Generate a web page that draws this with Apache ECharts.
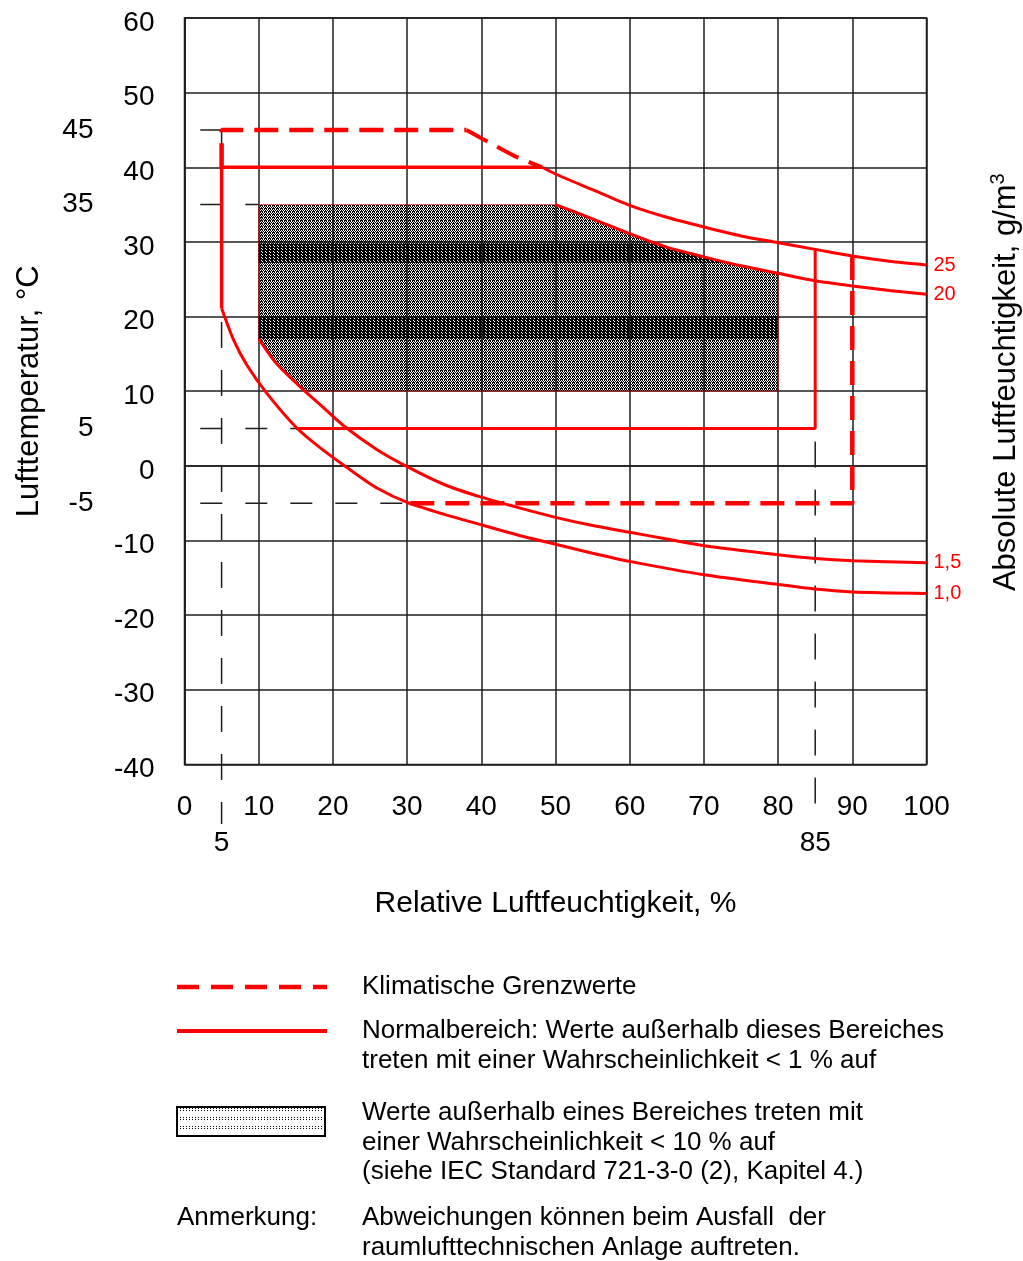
<!DOCTYPE html>
<html><head><meta charset="utf-8">
<script src="https://cdn.jsdelivr.net/npm/echarts@6/dist/echarts.min.js"></script>
<style>html,body{margin:0;padding:0;background:#fff;}#chart{width:1023px;height:1261px;}</style>
</head><body><div id="chart"></div>
<script>
// ---------- data ----------
const xRange = [0, 100, 10];
const yRange = [-40, 60, 10];
const yExtraTicks = [45, 35, 5, -5];
const xExtraTicks = [5, 85];
// lines of constant absolute humidity (RH %, T °C)
const curve25 = [[38,45],[40,43.9],[44.3,41.6],[48.2,40],[50,39.1],[55,37.0],[60,34.9],[65,33.3],[70,32.0],[75,30.8],[80,29.9],[85,29.0],[90,28.1],[95,27.4],[100,26.9]];
const curve20 = [[50,35.0],[55,33.1],[60,31.1],[65,29.3],[70,28.0],[75,26.8],[80,25.8],[85,24.8],[90,24.1],[95,23.5],[100,23.0]];
const curve15 = [[10,17.0],[12.4,13.7],[16,10.2],[18.5,8.0],[21.4,5.4],[25.9,2.2],[30,-0.1],[35,-2.5],[40,-4.2],[45,-5.6],[50,-6.9],[55,-8.0],[60,-8.9],[65,-9.8],[70,-10.7],[80,-11.9],[85,-12.4],[90,-12.7],[100,-13.0]];
const curve10 = [[5,21.1],[6.6,16.9],[8.4,13.5],[11.1,9.7],[15,5.2],[18.3,2.4],[22.7,-0.8],[26,-3.0],[30,-4.9],[35,-6.5],[40,-7.9],[45,-9.3],[50,-10.5],[55,-11.7],[60,-12.8],[70,-14.6],[80,-15.9],[85,-16.5],[90,-16.9],[100,-17.1]];
const curveLabels = ['25', '20', '1,5', '1,0'];
// Normalbereich (solid)
const normalUpperLeft = [[48.2,40],[5,40],[5,21.1]];
const normalLowerRight = [[15,5],[85,5],[85,29.0]];
// Klimatische Grenzwerte (dashed)
const climUpperLeft = [[5,40],[5,45],[38,45]];
const climLowerRight = [[90,28.1],[90,-5],[30,-5]];
// <10 % region
const shadeTopLeft = [[10,35]];
const shadeBottom = [[80,10],[16,10]];
const band1 = [[10,29.8],[63.6,29.8],[65,29.3],[70,28.0],[73.3,27.2],[10,27.2]];
const band2 = [[10,20],[80,20],[80,17.0],[10,17.0]];
// black dashed reference lines
const refLines = [
  [[-10,45],[5,45]], [[-10,35],[10,35]], [[-10,5],[15,5]], [[-10,-5],[30,-5]],
  [[5,45],[5,-48]], [[85,29.0],[85,-48]]
];
const xTitle = 'Relative Luftfeuchtigkeit, %';
const yTitle = 'Lufttemperatur, °C';
const y2Title = 'Absolute Luftfeuchtigkeit, g/m{sup|3}';
const legendTexts = [
  'Klimatische Grenzwerte',
  'Normalbereich: Werte außerhalb dieses Bereiches\ntreten mit einer Wahrscheinlichkeit < 1 % auf',
  'Werte außerhalb eines Bereiches treten mit\neiner Wahrscheinlichkeit < 10 % auf\n(siehe IEC Standard 721-3-0 (2), Kapitel 4.)',
  'Anmerkung:',
  'Abweichungen können beim Ausfall  der\nraumlufttechnischen Anlage auftreten.'
];

// ---------- styles ----------
const RED = '#ff0000';
const INK = '#1e1e1e';
const FONT = '"Liberation Sans", Arial, sans-serif';
function makePattern(rows, bg) {
  const h = rows.length, w = rows[0].length;
  const c = document.createElement('canvas'); c.width = w; c.height = h;
  const ctx = c.getContext('2d');
  if (bg) { ctx.fillStyle = bg; ctx.fillRect(0, 0, w, h); }
  ctx.fillStyle = '#000';
  rows.forEach((r, y) => { for (let x = 0; x < r.length; x++) if (r[x] === '1') ctx.fillRect(x, y, 1, 1); });
  return { image: c, repeat: 'repeat' };
}
const shadePat = makePattern(['0101', '1110', '1010']);
const bandPat = makePattern(['1101', '0111', '1011']);
const legendPat = makePattern(['000','100','000','100','000','000','000','000','000'], '#fff');

const split = 48.2;
const c25dash = curve25.filter(p => p[0] <= split);
const c25solid = curve25.filter(p => p[0] >= split);
const shadePoly = shadeTopLeft.concat(curve20.filter(p => p[0] <= 80), shadeBottom, curve15.filter(p => p[0] < 16).reverse());

function polySeries(name, pts, fill, stroke, z) {
  return {
    type: 'custom', name, data: pts, z, silent: true, animation: false,
    renderItem: (params, api) => {
      if (params.dataIndex !== 0) return null;
      return { type: 'polygon', shape: { points: pts.map(p => api.coord(p)) },
        style: { fill, stroke: stroke || null, lineWidth: 1 } };
    }
  };
}
function lineSeries(name, data, color, width, type, z, extra) {
  return Object.assign({
    type: 'line', name, data, symbol: 'none', showSymbol: false, clip: false, silent: true, animation: false, z,
    lineStyle: { color, width, type, cap: 'butt' }
  }, extra || {});
}
function endLabel(txt) {
  return { show: true, formatter: txt, color: RED, fontSize: 20, fontFamily: FONT, distance: 7 };
}

const series = [
  polySeries('shade', shadePoly, shadePat, 'rgba(255,0,0,0.55)', 1),
  polySeries('band1', band1, bandPat, null, 1),
  polySeries('band2', band2, bandPat, null, 1),
];
refLines.forEach((l, i) => series.push(lineSeries('ref' + i, l, INK, 1.5, i < 4 ? [22, 23] : [26, 22], 2)));
series.push(lineSeries('Normalbereich', normalUpperLeft, RED, 3.5, 'solid', 4));
series.push(lineSeries('Normalbereich', normalLowerRight, RED, 3, 'solid', 4));
series.push(lineSeries('Klimatische Grenzwerte', climUpperLeft, RED, 4.5, [24, 11], 4));
series.push(lineSeries('Klimatische Grenzwerte', c25dash, RED, 4, [24, 11], 4, { smooth: 0.2 }));
series.push(lineSeries('Klimatische Grenzwerte', climLowerRight, RED, 4.5, [24, 11], 4));
series.push(lineSeries('25', c25solid, RED, 3, 'solid', 4, { smooth: 0.25, endLabel: endLabel(curveLabels[0]) }));
series.push(lineSeries('20', curve20, RED, 3, 'solid', 4, { smooth: 0.25, endLabel: endLabel(curveLabels[1]) }));
series.push(lineSeries('1,5', curve15, RED, 3, 'solid', 4, { smooth: 0.25, endLabel: endLabel(curveLabels[2]) }));
series.push(lineSeries('1,0', curve10, RED, 3, 'solid', 4, { smooth: 0.25, endLabel: endLabel(curveLabels[3]) }));

const legendTextStyle = (t, x, y) => ({ type: 'text', x, y, silent: true,
  style: { text: t, font: '26px ' + FONT, fill: '#000', lineHeight: 29.5, verticalAlign: 'top', align: 'left' } });
const graphic = [
  { type: 'line', silent: true, shape: { x1: 177, y1: 987, x2: 327, y2: 987 }, style: { stroke: RED, lineWidth: 4.5, lineDash: [22, 12] } },
  { type: 'line', silent: true, shape: { x1: 177, y1: 1031, x2: 327, y2: 1031 }, style: { stroke: RED, lineWidth: 4 } },
  { type: 'rect', silent: true, shape: { x: 177, y: 1107, width: 148, height: 29 }, style: { fill: legendPat, stroke: '#000', lineWidth: 2 } },
  legendTextStyle(legendTexts[0], 362, 987 - 14.75),
  legendTextStyle(legendTexts[1], 362, 1031 - 14.75),
  legendTextStyle(legendTexts[2], 362, 1113 - 14.75),
  legendTextStyle(legendTexts[3], 177, 1218 - 14.75),
  legendTextStyle(legendTexts[4], 362, 1218 - 14.75),
];

const baseLabel = { fontSize: 28, color: '#000', fontFamily: FONT };
const option = {
  animation: false,
  backgroundColor: '#fff',
  textStyle: { fontFamily: FONT },
  grid: { left: 184.5, right: 96.5, top: 18, bottom: 496.6, show: true, borderColor: INK, borderWidth: 1.5, outerBoundsMode: 'none' },
  xAxis: [
    { type: 'value', min: xRange[0], max: xRange[1], interval: xRange[2], position: 'bottom',
      axisLine: { show: true, lineStyle: { color: INK, width: 1.5 } }, axisTick: { show: false },
      splitLine: { show: true, lineStyle: { color: INK, width: 1.5 } },
      axisLabel: Object.assign({ margin: 29 }, baseLabel),
      name: xTitle, nameLocation: 'middle', nameGap: 124,
      nameTextStyle: { fontSize: 30, color: '#000', fontFamily: FONT } },
    { type: 'value', min: xRange[0], max: xRange[1], position: 'bottom',
      axisLine: { show: false }, axisTick: { show: false }, splitLine: { show: false },
      axisLabel: Object.assign({ margin: 65, customValues: xExtraTicks }, baseLabel) }
  ],
  yAxis: [
    { type: 'value', min: yRange[0], max: yRange[1], interval: yRange[2], position: 'left',
      axisLine: { show: true, lineStyle: { color: INK, width: 1.5 } }, axisTick: { show: false },
      splitLine: { show: true, lineStyle: { color: INK, width: 1.5 } },
      axisLabel: Object.assign({ margin: 30, verticalAlign: 'top', lineHeight: 10 }, baseLabel),
      name: yTitle, nameLocation: 'middle', nameGap: 140,
      nameTextStyle: { fontSize: 31, color: '#000', fontFamily: FONT } },
    { type: 'value', min: yRange[0], max: yRange[1], position: 'left',
      axisLine: { show: false }, axisTick: { show: false }, splitLine: { show: false },
      axisLabel: Object.assign({ margin: 91, customValues: yExtraTicks }, baseLabel) },
    { type: 'value', min: yRange[0], max: yRange[1], position: 'right',
      axisLine: { show: false }, axisTick: { show: false }, splitLine: { show: false }, axisLabel: { show: false },
      name: y2Title, nameLocation: 'middle', nameGap: 62, nameRotate: 90,
      nameTextStyle: { fontSize: 31, color: '#000', fontFamily: FONT, padding: [0, 0, 0, 18],
        rich: { sup: { fontSize: 20, color: '#000', fontFamily: FONT, padding: [0, 0, 15, 0] } } } }
  ],
  series,
  graphic
};
const chart = echarts.init(document.getElementById('chart'), null, { renderer: 'canvas' });
chart.setOption(option);
</script></body></html>
